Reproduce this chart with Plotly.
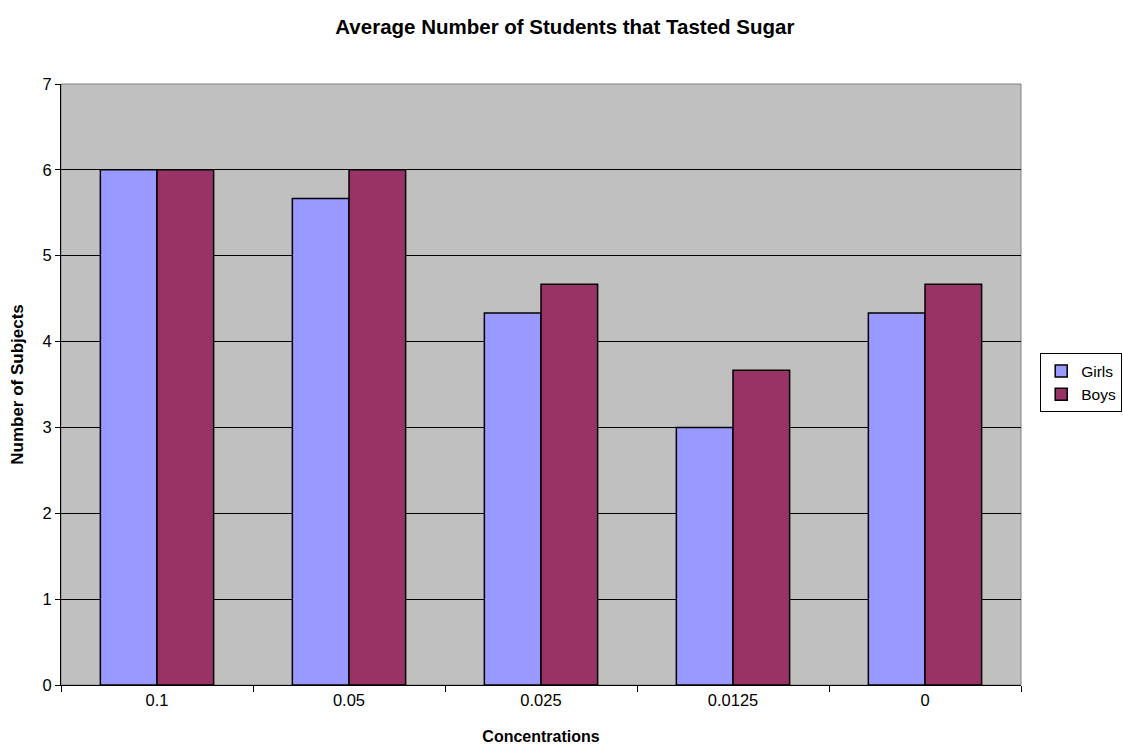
import plotly.graph_objects as go

categories = ["0.1", "0.05", "0.025", "0.0125", "0"]
girls = [6.0, 5.667, 4.333, 3.0, 4.333]
boys = [6.0, 6.0, 4.667, 3.667, 4.667]
y_ticks = [0, 1, 2, 3, 4, 5, 6, 7]

fig = go.Figure()
fig.add_trace(go.Bar(name="Girls", x=categories, y=girls,
                     marker=dict(color="#9999FF", line=dict(color="black", width=1.5))))
fig.add_trace(go.Bar(name="Boys", x=categories, y=boys,
                     marker=dict(color="#993366", line=dict(color="black", width=1.5))))

font = "Liberation Sans, Arial, sans-serif"
fig.update_layout(
    width=1123, height=745,
    margin=dict(l=61, r=102, t=84, b=60, autoexpand=False),
    paper_bgcolor="white", plot_bgcolor="#C0C0C0",
    barmode="group", bargap=0.41, bargroupgap=0,
    font=dict(family=font, size=16.5, color="black"),
    title=dict(text="<b>Average Number of Students that Tasted Sugar</b>",
               x=0.503, xref="container", xanchor="center",
               y=0.964, yref="container", yanchor="middle",
               font=dict(size=20.5, family=font)),
    legend=dict(x=1.02, y=0.5025, xanchor="left", yanchor="middle",
                bordercolor="black", borderwidth=1, bgcolor="white",
                font=dict(size=15.5), tracegroupgap=0, itemwidth=30),
    showlegend=True,
)
fig.update_xaxes(
    type="category", tickson="boundaries", ticks="outside", ticklen=6,
    tickcolor="black", showline=True, linecolor="black", linewidth=1,
    showgrid=False, automargin=False,
    title=dict(text="<b>Concentrations</b>", font=dict(size=16), standoff=24),
    tickfont=dict(size=16.5),
)
fig.update_yaxes(
    range=[0, 7], tickvals=y_ticks, ticks="outside", ticklen=5,
    tickcolor="black", showline=True, linecolor="black", linewidth=1,
    showgrid=True, gridcolor="black", gridwidth=1, zeroline=False,
    automargin=False,
    title=dict(text="<b>Number of Subjects</b>", font=dict(size=17), standoff=14),
    tickfont=dict(size=16.5),
)
fig.add_shape(type="rect", xref="paper", yref="paper", x0=0, x1=1, y0=0, y1=1,
              line=dict(color="#808080", width=1), layer="below")
fig.write_html(
    "out.html",
    config={"displayModeBar": False},
    post_script="document.body.style.margin='0';document.body.style.overflow='hidden';",
)
